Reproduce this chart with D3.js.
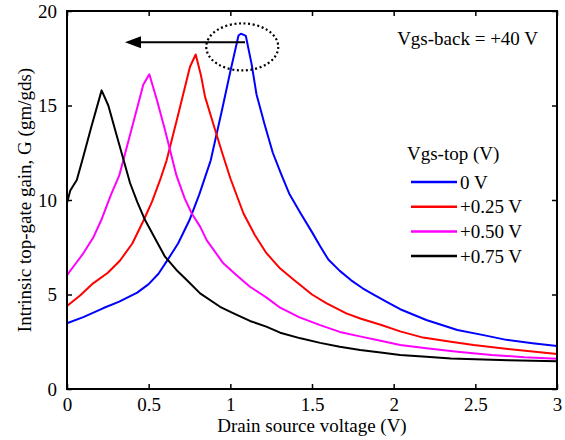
<!DOCTYPE html>
<html>
<head>
<meta charset="utf-8">
<script src="https://cdn.jsdelivr.net/npm/d3@7"></script>
<style>
  body { margin: 0; background: #fff; }
  svg text { font-family: "Times New Roman", "Liberation Serif", serif; fill: #000; }
</style>
</head>
<body>
<div id="chart"></div>
<script>
// drain-source voltage (V) and intrinsic gain, one pair of arrays per Vgs-top
var vds0 = [0, 0.1, 0.22, 0.32, 0.43, 0.5, 0.56, 0.61, 0.68, 0.75, 0.81, 0.88, 0.95, 1.0, 1.05, 1.065, 1.095, 1.13, 1.16, 1.21, 1.26, 1.31, 1.36, 1.43, 1.5, 1.55, 1.6, 1.67, 1.74, 1.81, 1.88, 1.96, 2.04, 2.2, 2.39, 2.55, 2.69, 2.85, 3.0];
var gain0 = [3.48, 3.8, 4.27, 4.62, 5.1, 5.55, 6.1, 6.75, 7.7, 8.94, 10.3, 12.1, 14.8, 16.8, 18.7, 18.8, 18.68, 17.2, 15.6, 14.0, 12.5, 11.4, 10.35, 9.3, 8.3, 7.55, 6.85, 6.25, 5.75, 5.33, 4.98, 4.6, 4.22, 3.65, 3.12, 2.85, 2.6, 2.42, 2.27];

var vds25 = [0, 0.08, 0.16, 0.25, 0.325, 0.4, 0.47, 0.52, 0.57, 0.61, 0.68, 0.753, 0.788, 0.82, 0.845, 0.9, 0.95, 1.0, 1.08, 1.15, 1.22, 1.3, 1.39, 1.5, 1.59, 1.71, 1.8, 1.92, 2.04, 2.18, 2.35, 2.49, 2.7, 2.85, 3.0];
var gain25 = [4.39, 4.95, 5.59, 6.15, 6.8, 7.7, 8.94, 9.9, 11.06, 12.1, 14.5, 17.05, 17.7, 16.6, 15.47, 13.9, 12.5, 11.15, 9.3, 8.15, 7.2, 6.42, 5.77, 5.0, 4.53, 4.0, 3.72, 3.4, 3.05, 2.72, 2.5, 2.33, 2.12, 1.98, 1.85];

var vds50 = [0, 0.05, 0.1, 0.16, 0.21, 0.27, 0.32, 0.4, 0.467, 0.504, 0.55, 0.6, 0.67, 0.72, 0.763, 0.815, 0.855, 0.957, 1.04, 1.12, 1.22, 1.305, 1.42, 1.55, 1.67, 1.8, 1.92, 2.04, 2.2, 2.39, 2.6, 2.8, 3.0];
var gain50 = [6.03, 6.6, 7.18, 8.0, 8.94, 10.3, 11.3, 13.9, 16.1, 16.65, 15.3, 13.7, 11.3, 10.1, 9.3, 8.59, 7.88, 6.65, 6.0, 5.41, 4.85, 4.3, 3.8, 3.38, 3.02, 2.77, 2.55, 2.33, 2.15, 1.97, 1.8, 1.68, 1.6];

var vds75 = [0, 0.02, 0.06, 0.1, 0.15, 0.212, 0.253, 0.3, 0.386, 0.43, 0.478, 0.54, 0.6, 0.67, 0.733, 0.815, 0.937, 1.02, 1.12, 1.22, 1.305, 1.43, 1.55, 1.67, 1.795, 1.92, 2.04, 2.2, 2.35, 2.5, 2.7, 2.85, 3.0];
var gain75 = [9.84, 10.5, 11.06, 12.3, 13.9, 15.8, 15.0, 13.55, 10.9, 9.9, 8.94, 7.95, 7.0, 6.3, 5.77, 5.06, 4.35, 4.0, 3.6, 3.3, 2.98, 2.68, 2.44, 2.24, 2.06, 1.93, 1.8, 1.7, 1.62, 1.57, 1.52, 1.49, 1.47];

var seriesNames = ["0 V", "+0.25 V", "+0.50 V", "+0.75 V"];
var seriesColors = ["#0000ff", "#ff0000", "#ff00ff", "#000000"];
var xTicks = [0, 0.5, 1, 1.5, 2, 2.5, 3];
var yTicks = [0, 5, 10, 15, 20];

var width = 565, height = 440;
var margin = {top: 11, right: 8, bottom: 51, left: 67};
var w = width - margin.left - margin.right;
var h = height - margin.top - margin.bottom;

var svg = d3.select("#chart").append("svg")
    .attr("width", width)
    .attr("height", height);
var g = svg.append("g").attr("transform", "translate(" + margin.left + "," + margin.top + ")");

var x = d3.scaleLinear().domain([0, 3]).range([0, w]);
var y = d3.scaleLinear().domain([0, 20]).range([h, 0]);

var series = [
  {name: seriesNames[0], color: seriesColors[0], xs: vds0, ys: gain0},
  {name: seriesNames[1], color: seriesColors[1], xs: vds25, ys: gain25},
  {name: seriesNames[2], color: seriesColors[2], xs: vds50, ys: gain50},
  {name: seriesNames[3], color: seriesColors[3], xs: vds75, ys: gain75}
];

var line = d3.line().x(function(d) { return x(d[0]); }).y(function(d) { return y(d[1]); });

g.append("g").selectAll("path")
  .data(series)
  .enter().append("path")
    .attr("fill", "none")
    .attr("stroke", function(d) { return d.color; })
    .attr("stroke-width", 2)
    .attr("stroke-linejoin", "round")
    .attr("d", function(d) { return line(d.xs.map(function(v, i) { return [v, d.ys[i]]; })); });

// axes, ticks point inward on all four sides
var fs = "19px";
var axBottom = g.append("g").attr("transform", "translate(0," + h + ")")
  .call(d3.axisBottom(x).tickValues(xTicks).tickSizeInner(-5).tickSizeOuter(0).tickPadding(9)
    .tickFormat(function(d) { return d; }));
var axTop = g.append("g")
  .call(d3.axisTop(x).tickValues(xTicks).tickSizeInner(-5).tickSizeOuter(0).tickFormat(""));
var axLeft = g.append("g")
  .call(d3.axisLeft(y).tickValues(yTicks).tickSizeInner(-5).tickSizeOuter(0).tickPadding(10));
var axRight = g.append("g").attr("transform", "translate(" + w + ",0)")
  .call(d3.axisRight(y).tickValues(yTicks).tickSizeInner(-5).tickSizeOuter(0).tickFormat(""));

[axBottom, axTop, axLeft, axRight].forEach(function(a) {
  a.select(".domain").remove();
  a.selectAll(".tick line").attr("stroke", "#000").attr("stroke-width", 1.5);
  a.selectAll("text").style("font-size", fs).attr("fill", "#000")
    .style("font-family", "'Times New Roman', 'Liberation Serif', serif");
});

g.append("rect")
  .attr("width", w).attr("height", h)
  .attr("fill", "none").attr("stroke", "#000").attr("stroke-width", 2);

// axis titles
g.append("text")
  .attr("x", w / 2).attr("y", h + 43)
  .attr("text-anchor", "middle")
  .style("font-size", fs)
  .text("Drain source voltage (V)");

g.append("text")
  .attr("transform", "translate(" + (-36) + "," + (h / 2) + ") rotate(-90)")
  .attr("text-anchor", "middle")
  .style("font-size", fs)
  .text("Intrinsic top-gate gain, G (gm/gds)");

// peak-shift annotation: dotted ellipse around the 0 V peak and arrow to the left
g.append("ellipse")
  .attr("cx", x(1.073)).attr("cy", y(18.1))
  .attr("rx", 36).attr("ry", 23.5)
  .attr("fill", "none").attr("stroke", "#000")
  .attr("stroke-width", 2.2).attr("stroke-dasharray", "2,2.6");

g.append("line")
  .attr("x1", x(1.09)).attr("y1", y(18.34))
  .attr("x2", x(0.355) + 14).attr("y2", y(18.34))
  .attr("stroke", "#000").attr("stroke-width", 2);
g.append("path")
  .attr("d", "M" + x(0.355) + "," + y(18.34) + "l16,-6l0,12z")
  .attr("fill", "#000");

g.append("text")
  .attr("x", w - 19).attr("y", 34)
  .attr("text-anchor", "end")
  .style("font-size", fs)
  .text("Vgs-back = +40 V");

// legend
var lg = g.append("g").attr("transform", "translate(" + (w - 146) + ",0)");
lg.append("text").attr("x", -4).attr("y", 149).style("font-size", fs).text("Vgs-top (V)");
var item = lg.selectAll(".item").data(series).enter().append("g")
  .attr("class", "item")
  .attr("transform", function(d, i) { return "translate(0," + (171 + i * 24.7) + ")"; });
item.append("line")
  .attr("x1", 0).attr("x2", 46)
  .attr("stroke", function(d) { return d.color; })
  .attr("stroke-width", 2.5);
item.append("text")
  .attr("x", 49).attr("y", 6.5)
  .style("font-size", fs)
  .text(function(d) { return d.name; });
</script>
</body>
</html>
